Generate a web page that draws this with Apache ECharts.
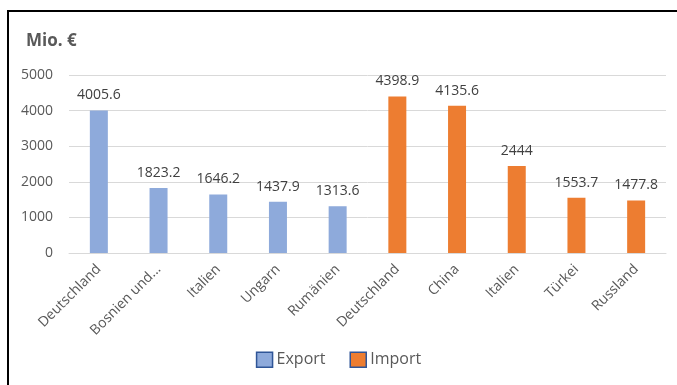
<!DOCTYPE html>
<html>
<head>
<meta charset="utf-8">
<script src="https://cdn.jsdelivr.net/npm/echarts@6/dist/echarts.min.js"></script>
<style>
  html, body { margin: 0; padding: 0; background: #fff; }
  #wrap { position: relative; width: 677px; height: 385px; }
  #chart { width: 677px; height: 385px; }
  #frame { position: absolute; left: 7px; top: 10px; right: 0; bottom: 0;
           border-top: 2px solid #000; border-left: 2px solid #000; pointer-events: none; }
</style>
</head>
<body>
<div id="wrap">
  <div id="chart"></div>
  <div id="frame"></div>
</div>
<script>
const categories = ['Deutschland', 'Bosnien und...', 'Italien', 'Ungarn', 'Rumänien',
                    'Deutschland', 'China', 'Italien', 'Türkei', 'Russland']
const exportValues = [4005.6, 1823.2, 1646.2, 1437.9, 1313.6, '-', '-', '-', '-', '-']
const importValues = ['-', '-', '-', '-', '-', 4398.9, 4135.6, 2444, 1553.7, 1477.8]
const yTicks = [0, 1000, 2000, 3000, 4000, 5000]

const font = '"Open Sans", "Noto Sans", sans-serif'
const grey = '#595959'

let chart = echarts.init(document.getElementById('chart'))

const barLabel = {
  show: true,
  position: 'top',
  distance: 8,
  color: '#404040',
  fontFamily: font,
  fontSize: 14
}

let option = {
  animation: false,
  title: {
    text: 'Mio. €',
    left: 21,
    top: 28,
    textStyle: { fontFamily: font, fontSize: 17, fontWeight: 'bold', color: grey }
  },
  legend: {
    bottom: 12,
    left: 'center',
    icon: 'rect',
    itemWidth: 16,
    itemHeight: 15,
    itemGap: 24,
    textStyle: { fontFamily: font, fontSize: 16, color: grey, padding: [0, 0, 0, -1] },
    data: [
      { name: 'Export', itemStyle: { borderColor: '#2f5597', borderWidth: 1.5 } },
      { name: 'Import', itemStyle: { borderColor: '#2f5597', borderWidth: 1.5 } }
    ]
  },
  grid: { left: 69, right: 11, top: 75, bottom: 132 },
  xAxis: {
    type: 'category',
    data: categories,
    axisTick: { show: false },
    axisLine: { lineStyle: { color: '#d9d9d9' } },
    axisLabel: { rotate: 45, interval: 0, color: grey, fontFamily: font, fontSize: 14, margin: 14 }
  },
  yAxis: {
    type: 'value',
    min: yTicks[0],
    max: yTicks[yTicks.length - 1],
    interval: 1000,
    axisLabel: { color: grey, fontFamily: font, fontSize: 14, margin: 16, formatter: v => String(v) },
    splitLine: { lineStyle: { color: '#d9d9d9' } }
  },
  series: [
    {
      name: 'Export',
      type: 'bar',
      barWidth: 18,
      barGap: '-100%',
      itemStyle: { color: '#8eaadb' },
      label: barLabel,
      data: exportValues
    },
    {
      name: 'Import',
      type: 'bar',
      barWidth: 18,
      itemStyle: { color: '#ed7d31' },
      label: barLabel,
      data: importValues
    }
  ]
}
chart.setOption(option)
</script>
</body>
</html>
